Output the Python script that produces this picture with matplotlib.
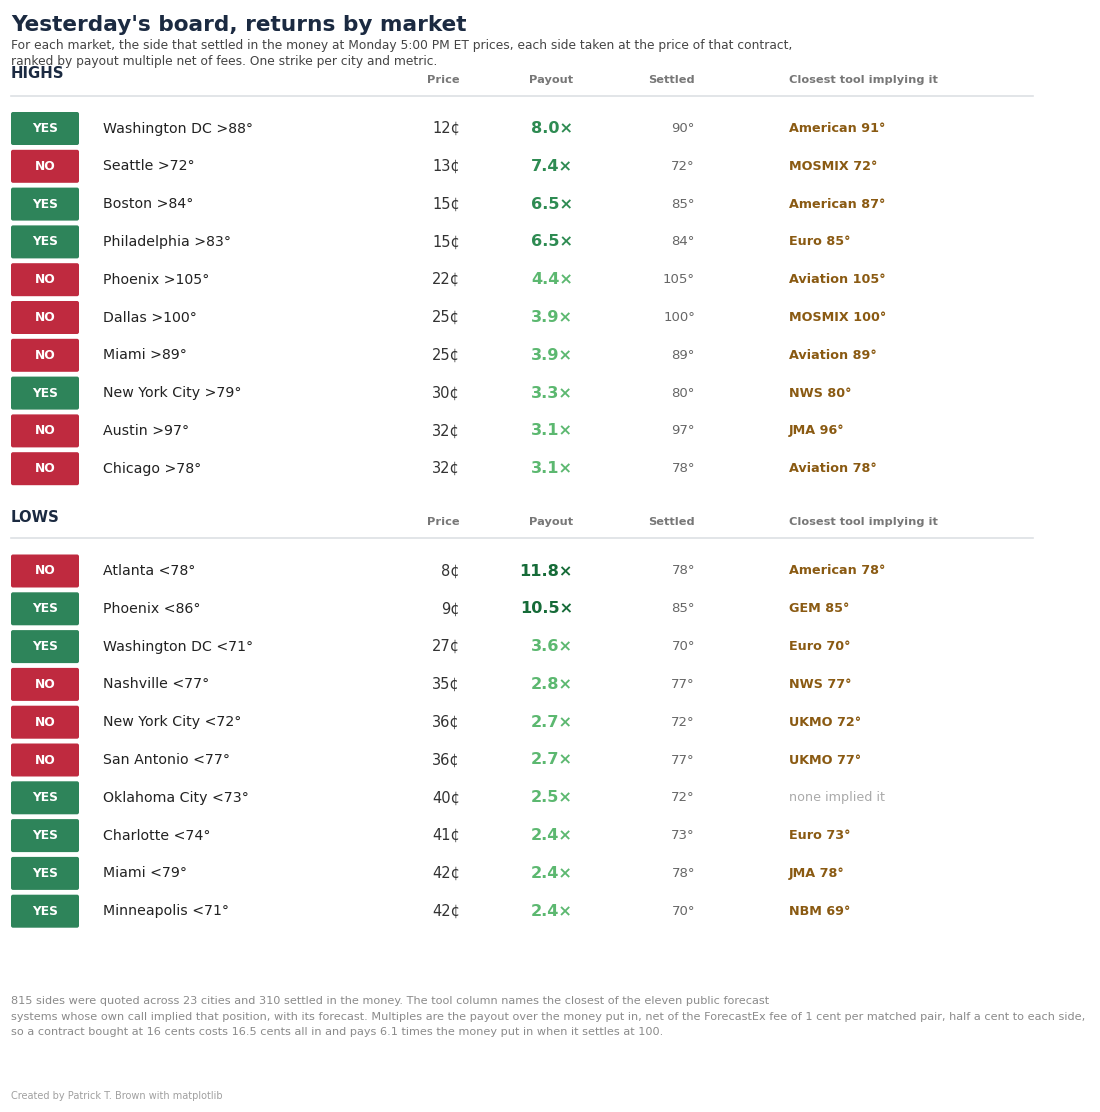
import matplotlib
matplotlib.use("Agg")
import matplotlib.pyplot as plt
from matplotlib.patches import FancyBboxPatch

# Highs board
high_side = ["YES", "NO", "YES", "YES", "NO", "NO", "NO", "YES", "NO", "NO"]
high_market = ["Washington DC >88°", "Seattle >72°", "Boston >84°", "Philadelphia >83°",
               "Phoenix >105°", "Dallas >100°", "Miami >89°", "New York City >79°",
               "Austin >97°", "Chicago >78°"]
high_price = [12, 13, 15, 15, 22, 25, 25, 30, 32, 32]
high_payout = [8.0, 7.4, 6.5, 6.5, 4.4, 3.9, 3.9, 3.3, 3.1, 3.1]
high_settled = [90, 72, 85, 84, 105, 100, 89, 80, 97, 78]
high_tool = ["American 91°", "MOSMIX 72°", "American 87°", "Euro 85°", "Aviation 105°",
             "MOSMIX 100°", "Aviation 89°", "NWS 80°", "JMA 96°", "Aviation 78°"]

# Lows board
low_side = ["NO", "YES", "YES", "NO", "NO", "NO", "YES", "YES", "YES", "YES"]
low_market = ["Atlanta <78°", "Phoenix <86°", "Washington DC <71°", "Nashville <77°",
              "New York City <72°", "San Antonio <77°", "Oklahoma City <73°",
              "Charlotte <74°", "Miami <79°", "Minneapolis <71°"]
low_price = [8, 9, 27, 35, 36, 36, 40, 41, 42, 42]
low_payout = [11.8, 10.5, 3.6, 2.8, 2.7, 2.7, 2.5, 2.4, 2.4, 2.4]
low_settled = [78, 85, 70, 77, 72, 77, 72, 73, 78, 70]
low_tool = ["American 78°", "GEM 85°", "Euro 70°", "NWS 77°", "UKMO 72°", "UKMO 77°",
            None, "Euro 73°", "JMA 78°", "NBM 69°"]

GREEN = "#2e845a"
RED = "#bf2a3f"
NAVY = "#1b2a41"
BROWN = "#8a5a12"


def payout_color(v):
    if v >= 10:
        return "#166b38"
    if v >= 5:
        return "#2e8b52"
    return "#5cb870"


fig = plt.figure(figsize=(11, 11.12), dpi=100)
ax = fig.add_axes([0, 0, 1, 1])
ax.set_xlim(0, 1100)
ax.set_ylim(1112, 0)
ax.axis("off")

ax.text(11, 25, "Yesterday's board, returns by market", fontsize=15.6, fontweight="bold",
        color=NAVY, va="center")
ax.text(11, 45, "For each market, the side that settled in the money at Monday 5:00 PM ET prices, "
        "each side taken at the price of that contract,", fontsize=8.8, color="#444444", va="center")
ax.text(11, 61, "ranked by payout multiple net of fees. One strike per city and metric.",
        fontsize=8.8, color="#444444", va="center")


def draw_board(title, y_head, y_line, y0, side, market, price, payout, settled, tool):
    ax.text(11, y_head, title, fontsize=10.7, fontweight="bold", color=NAVY, va="center")
    hy = y_line - 17
    hkw = dict(fontsize=8.2, fontweight="bold", color="#777777", va="center_baseline")
    ax.text(460, hy, "Price", ha="right", **hkw)
    ax.text(573, hy, "Payout", ha="right", **hkw)
    ax.text(695, hy, "Settled", ha="right", **hkw)
    ax.text(789, hy, "Closest tool implying it", ha="left", **hkw)
    ax.plot([11, 1033], [y_line, y_line], color="#dde0e4", lw=1.2)

    step = 37.8
    for i in range(len(side)):
        y = y0 + i * step
        col = GREEN if side[i] == "YES" else RED
        ax.add_patch(FancyBboxPatch((11, y - 16.5), 68, 33,
                                    boxstyle="round,pad=0,rounding_size=2",
                                    fc=col, ec="none"))
        ax.text(45, y, side[i], ha="center", va="center", fontsize=8.8,
                fontweight="bold", color="white")
        ax.text(103, y, market[i], va="center", fontsize=10.2, color="#222222")
        ax.text(460, y, f"{price[i]}¢", ha="right", va="center", fontsize=10.5, color="#333333")
        ax.text(573, y, f"{payout[i]:.1f}×", ha="right", va="center", fontsize=11.6,
                fontweight="bold", color=payout_color(payout[i]))
        ax.text(695, y, f"{settled[i]}°", ha="right", va="center", fontsize=9.5, color="#666666")
        if tool[i] is None:
            ax.text(789, y, "none implied it", va="center", fontsize=9.2, color="#aaaaaa")
        else:
            ax.text(789, y, tool[i], va="center", fontsize=9.2, fontweight="bold", color=BROWN)


draw_board("HIGHS", 74, 96, 128.5, high_side, high_market, high_price, high_payout,
           high_settled, high_tool)
draw_board("LOWS", 517, 538, 571, low_side, low_market, low_price, low_payout,
           low_settled, low_tool)

notes = [
    "815 sides were quoted across 23 cities and 310 settled in the money. The tool column names "
    "the closest of the eleven public forecast",
    "systems whose own call implied that position, with its forecast. Multiples are the payout over "
    "the money put in, net of the ForecastEx fee of 1 cent per matched pair, half a cent to each side,",
    "so a contract bought at 16 cents costs 16.5 cents all in and pays 6.1 times the money put in "
    "when it settles at 100.",
]
for k, line in enumerate(notes):
    ax.text(11, 1001 + k * 15.5, line, fontsize=8.13, color="#8a8a8a", va="center")

ax.text(11, 1096, "Created by Patrick T. Brown with matplotlib", fontsize=7,
        color="#a0a0a0", va="center")

fig.savefig("out.png", dpi=100, facecolor="white")
